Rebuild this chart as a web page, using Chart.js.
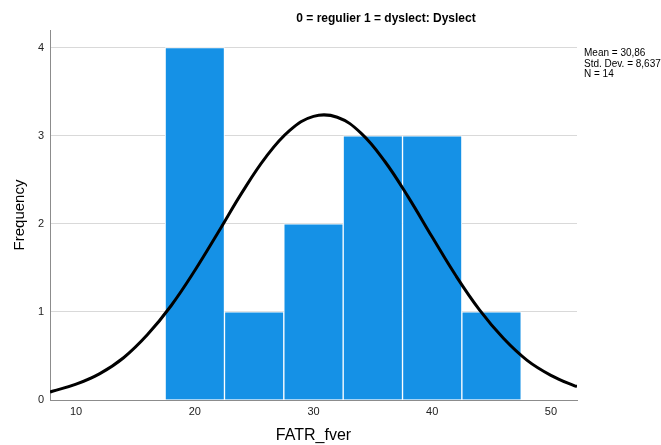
<!DOCTYPE html>
<html>
<head>
<meta charset="utf-8">
<script src="https://cdn.jsdelivr.net/npm/chart.js@4.4.0/dist/chart.umd.min.js"></script>
<style>
    html, body { margin: 0; padding: 0; background: #fff; }
    #wrap { width: 661px; height: 445px; }
</style>
</head>
<body>
<div id="wrap"><canvas id="histChart" width="661" height="445"></canvas></div>
<script>
// Histogram bins (centre of each bin, width 5) and their counts
const binCenters = [20, 25, 30, 35, 40, 45];
const frequencies = [4, 1, 2, 3, 3, 1];

// Normal curve
const curveX = [7.8, 8, 10, 12, 14, 16, 18, 20, 22, 24, 26, 28, 30, 32, 34, 36, 38, 40, 42, 44, 46, 48, 50, 52, 52.2];
const curveY = [0.09, 0.10, 0.18, 0.30, 0.48, 0.74, 1.07, 1.47, 1.91, 2.36, 2.76, 3.06, 3.22, 3.21, 3.03, 2.71, 2.30, 1.85, 1.41, 1.02, 0.70, 0.45, 0.28, 0.16, 0.155];

const xTicks = [10, 20, 30, 40, 50];
const yTicks = [0, 1, 2, 3, 4];

const titleText = "0 = regulier 1 = dyslect: Dyslect";
const statsLines = ["Mean = 30,86", "Std. Dev. = 8,637", "N = 14"];

const fontName = "'Liberation Sans', Arial, sans-serif";

// title above the plot and the stats box on the right
const textPlugin = {
    id: "spssText",
    afterDraw(chart) {
        const ctx = chart.ctx;
        ctx.save();
        ctx.fillStyle = "#000";
        ctx.font = "bold 12px " + fontName;
        ctx.textAlign = "center";
        ctx.textBaseline = "middle";
        ctx.fillText(titleText, 386, 19);

        ctx.font = "10px " + fontName;
        ctx.textAlign = "left";
        ctx.textBaseline = "alphabetic";
        statsLines.forEach(function(line, i) {
            ctx.fillText(line, 584, 56 + i * 10.5);
        });
        ctx.restore();
    }
};

const histData = {
    datasets: [
        {
            type: "line",
            data: curveX.map((x, i) => ({x: x, y: curveY[i]})),
            borderColor: "#000",
            borderWidth: 3,
            pointRadius: 0,
            tension: 0.4,
            fill: false,
            order: 0
        },
        {
            type: "bar",
            data: binCenters.map((x, i) => ({x: x, y: frequencies[i]})),
            backgroundColor: "#1591e6",
            borderColor: "#ffffff",
            borderWidth: 1,
            barPercentage: 1,
            categoryPercentage: 1,
            order: 1
        }
    ]
};

new Chart(document.getElementById("histChart"), {
    data: histData,
    plugins: [textPlugin],
    options: {
        responsive: false,
        animation: false,
        layout: { padding: { left: 0, right: 84, top: 30, bottom: 0 } },
        plugins: {
            legend: { display: false },
            tooltip: { enabled: false }
        },
        scales: {
            x: {
                type: "linear",
                min: 7.8,
                max: 52.2,
                offset: false,
                afterBuildTicks: function(scale) {
                    scale.ticks = xTicks.map(v => ({value: v}));
                },
                afterFit: function(scale) { scale.height = 45; },
                grid: { display: false, drawTicks: false, offset: false },
                border: { color: "#8c8c8c", width: 1 },
                ticks: { color: "#222", font: { family: fontName, size: 11 }, padding: 5 },
                title: {
                    display: true,
                    text: "FATR_fver",
                    color: "#000",
                    font: { family: fontName, size: 16 },
                    padding: { top: 0, bottom: 0 }
                }
            },
            y: {
                min: 0,
                max: 4.2,
                afterBuildTicks: function(scale) {
                    scale.ticks = yTicks.map(v => ({value: v}));
                },
                afterFit: function(scale) { scale.width = 50; },
                grid: { color: "#d9d9d9", drawTicks: false },
                border: { color: "#8c8c8c", width: 1 },
                ticks: { color: "#222", font: { family: fontName, size: 11 }, padding: 6 },
                title: {
                    display: true,
                    text: "Frequency",
                    color: "#000",
                    font: { family: fontName, size: 15 },
                    padding: { top: 11, bottom: 0 }
                }
            }
        }
    }
});
</script>
</body>
</html>
